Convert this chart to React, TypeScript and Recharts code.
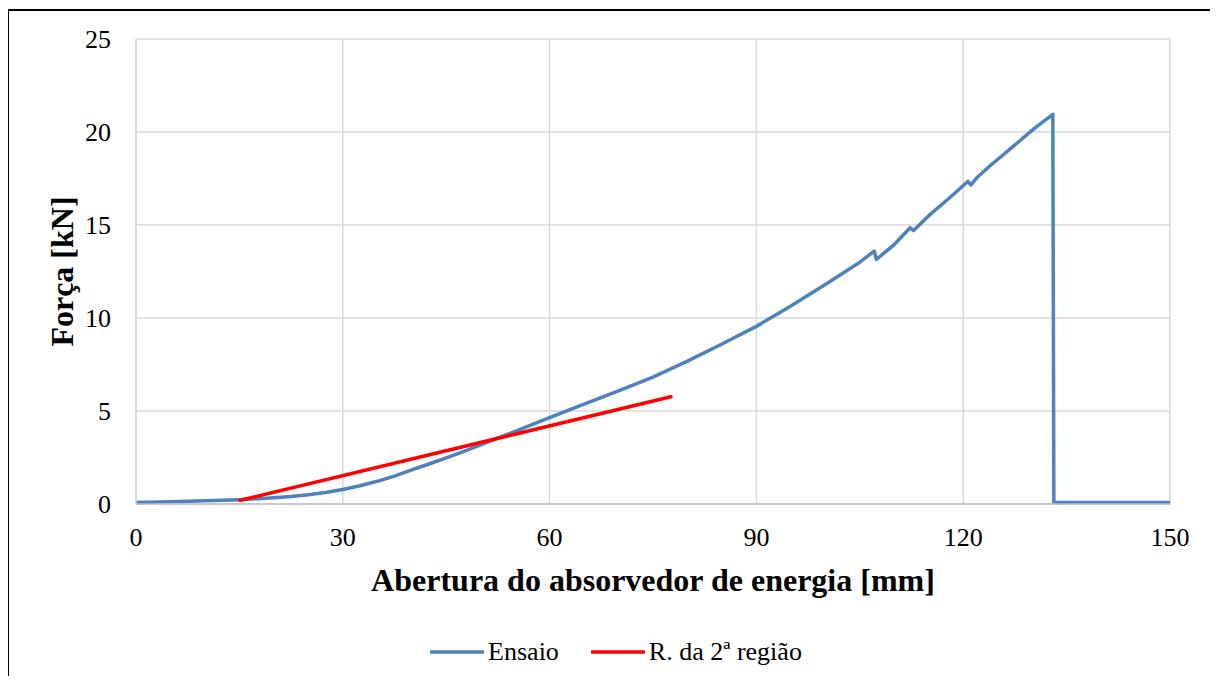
import React from 'react';
import {
  LineChart,
  Line,
  XAxis,
  YAxis,
  CartesianGrid,
  Legend,
} from 'recharts';

// Abertura [mm] vs Força [kN] from the test
const ensaioAbertura = [
  0, 5, 10, 15, 20, 22.5, 25, 27.5, 30, 32.5, 35, 37.5, 40, 42.5, 45, 47.5, 50,
  55, 60, 65, 70, 75, 80, 85, 90, 95, 100, 105, 107.1, 107.4, 110, 112.3, 112.8,
  115, 118, 120.7, 121.1, 122, 124.1, 124.6, 127, 129.7, 130.9, 133.0, 133.15,
  140, 150,
];
const ensaioForca = [
  0.08, 0.12, 0.17, 0.23, 0.33, 0.4, 0.5, 0.62, 0.78, 0.98, 1.22, 1.5, 1.83,
  2.15, 2.48, 2.82, 3.18, 3.9, 4.65, 5.37, 6.08, 6.82, 7.68, 8.6, 9.55, 10.64,
  11.8, 13.0, 13.6, 13.15, 13.95, 14.85, 14.7, 15.5, 16.45, 17.35, 17.15, 17.55,
  18.25, 18.4, 19.15, 20.0, 20.35, 20.95, 0.08, 0.08, 0.08,
];

// Linear fit of the 2nd region
const retaAbertura = [15.1, 77.6];
const retaForca = [0.2, 5.77];

const xTicks = [0, 30, 60, 90, 120, 150];
const yTicks = [0, 5, 10, 15, 20, 25];

const seriesNames = ['Ensaio', 'R. da 2ª região'];
const seriesColors = ['#4f81bd', '#ff0000'];

const ensaioData = ensaioAbertura.map((x, i) => ({ x, f: ensaioForca[i] }));
const retaData = retaAbertura.map((x, i) => ({ x, f: retaForca[i] }));

const FONT = "'Liberation Serif', 'Times New Roman', serif";

const tickStyle = { fill: '#000', fontSize: 26, fontFamily: FONT };

const LegendContent = () => (
  <div
    style={{
      display: 'flex',
      justifyContent: 'center',
      alignItems: 'center',
      height: 40,
      fontFamily: FONT,
      fontSize: 26,
      color: '#000',
    }}
  >
    {seriesNames.map((name, i) => (
      <div
        key={name}
        style={{ display: 'flex', alignItems: 'center', marginRight: i === 0 ? 32 : 0 }}
      >
        <svg width={54} height={10} style={{ marginRight: 4 }}>
          <line
            x1={1}
            y1={5}
            x2={53}
            y2={5}
            stroke={seriesColors[i]}
            strokeWidth={3.5}
            strokeLinecap="round"
          />
        </svg>
        <span style={{ fontFamily: FONT }}>{name}</span>
      </div>
    ))}
  </div>
);

export default function App() {
  return (
    <div style={{ position: 'relative', width: 1209, height: 668, fontFamily: FONT }}>
      <div
        style={{
          position: 'absolute',
          left: -1,
          top: 1,
          width: 1210,
          height: 667,
          border: '2px solid #000',
          borderBottom: 'none',
          boxSizing: 'border-box',
          pointerEvents: 'none',
        }}
      />
      <LineChart
        width={1209}
        height={668}
        margin={{ top: 31, right: 47, left: 0, bottom: 4 }}
        style={{ fontFamily: FONT }}
      >
        <CartesianGrid stroke="#d9d9d9" strokeWidth={1.5} />
        <XAxis
          type="number"
          dataKey="x"
          domain={[0, 150]}
          ticks={xTicks}
          height={128}
          tickLine={false}
          tickSize={0}
          tickMargin={24}
          axisLine={{ stroke: '#bfbfbf', strokeWidth: 1.5 }}
          tick={{ ...tickStyle, style: tickStyle }}
          label={{
            value: 'Abertura do absorvedor de energia [mm]',
            position: 'insideBottom',
            offset: 41,
            style: { fill: '#000', fontSize: 32, fontWeight: 'bold', fontFamily: FONT },
          }}
        />
        <YAxis
          type="number"
          domain={[0, 25]}
          ticks={yTicks}
          width={128}
          tickLine={false}
          tickSize={0}
          tickMargin={25}
          axisLine={{ stroke: '#d9d9d9', strokeWidth: 1.5 }}
          tick={{ ...tickStyle, style: tickStyle }}
          label={{
            value: 'Força [kN]',
            angle: -90,
            position: 'insideLeft',
            offset: 54,
            style: {
              textAnchor: 'middle',
              fill: '#000',
              fontSize: 32,
              fontWeight: 'bold',
              fontFamily: FONT,
            },
          }}
        />
        <Legend
          verticalAlign="bottom"
          content={<LegendContent />}
          wrapperStyle={{ left: 0, width: 1216, height: 40, fontFamily: FONT }}
        />
        <Line
          data={ensaioData}
          dataKey="f"
          name={seriesNames[0]}
          type="linear"
          stroke={seriesColors[0]}
          strokeWidth={3.5}
          dot={false}
          activeDot={false}
          strokeLinejoin="round"
          isAnimationActive={false}
        />
        <Line
          data={retaData}
          dataKey="f"
          name={seriesNames[1]}
          type="linear"
          stroke={seriesColors[1]}
          strokeWidth={3.5}
          dot={false}
          activeDot={false}
          strokeLinecap="round"
          isAnimationActive={false}
        />
      </LineChart>
    </div>
  );
}
